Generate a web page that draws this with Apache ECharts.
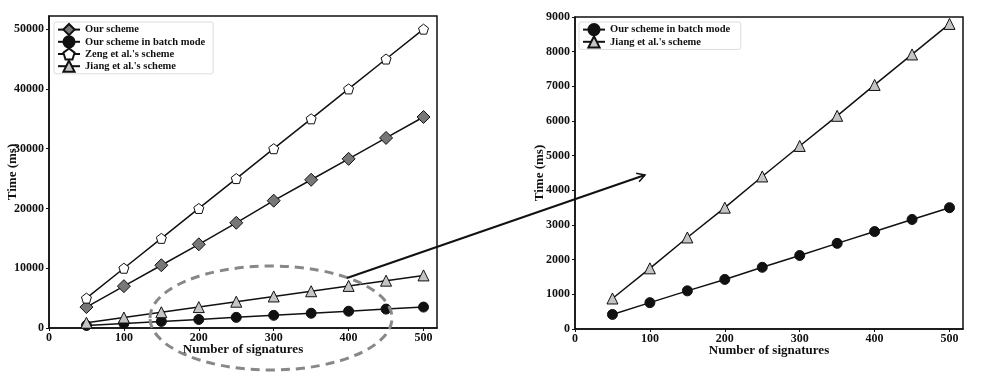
<!DOCTYPE html>
<html lang="en">
<head>
	<meta charset="UTF-8">
	<title>Signature time</title>
	<style>
		html,body{margin:0;padding:0;background:#fff;}
		#main{width:981px;height:383px;}
	</style>
</head>
<body>
	<div id="main"></div>
	<script src="https://cdn.jsdelivr.net/npm/echarts@6/dist/echarts.min.js"></script>
	<script>
		// number of signatures
		var nums = [50, 100, 150, 200, 250, 300, 350, 400, 450, 500];
		// time in ms
		var ourScheme = [3500, 7000, 10500, 14000, 17600, 21300, 24800, 28300, 31800, 35300];
		var batchMode = [420, 760, 1100, 1430, 1780, 2120, 2470, 2810, 3160, 3500];
		var zeng = [5000, 10000, 15000, 20000, 25000, 30000, 35000, 40000, 45000, 50000];
		var jiang = [880, 1750, 2640, 3500, 4400, 5280, 6150, 7040, 7920, 8800];
		var xTicks = [0, 100, 200, 300, 400, 500];
		var yTicksLeft = [0, 10000, 20000, 30000, 40000, 50000];
		var yTicksRight = [0, 1000, 2000, 3000, 4000, 5000, 6000, 7000, 8000, 9000];

		var FONT = '"Liberation Serif", "DejaVu Serif", serif';
		var pentagon = 'path://M0,-1 L0.951,-0.309 L0.588,0.809 L-0.588,0.809 L-0.951,-0.309 Z';

		function pairs(arr){
			return nums.map(function(n, i){ return [n, arr[i]]; });
		}

		function mkSeries(name, arr, idx, symbol, size, fill){
			return {
				name: name,
				type: 'line',
				xAxisIndex: idx,
				yAxisIndex: idx,
				data: pairs(arr),
				symbol: symbol,
				symbolSize: size,
				showAllSymbol: true,
				lineStyle: {color: '#111', width: 1.5},
				itemStyle: {color: fill, borderColor: '#111', borderWidth: 1},
				emphasis: {disabled: true},
				z: 3
			};
		}

		function plain(v){ return String(v); }

		function xAx(idx, max){
			return {
				type: 'value', gridIndex: idx, min: 0, max: max,
				name: 'Number of signatures', nameLocation: 'middle', nameGap: 15,
				nameMoveOverlap: false,
				nameTextStyle: {fontFamily: FONT, fontWeight: 'bold', fontSize: 13, color: '#111'},
				axisLine: {lineStyle: {color: '#111', width: 1.5}},
				axisTick: {length: 3, lineStyle: {color: '#111'}, customValues: xTicks},
				axisLabel: {margin: 4, fontFamily: FONT, fontWeight: 'bold', fontSize: 12, color: '#111', customValues: xTicks, formatter: plain},
				splitLine: {show: false}
			};
		}

		function yAx(idx, max, ticks, gap){
			return {
				type: 'value', gridIndex: idx, min: 0, max: max,
				name: 'Time (ms)', nameLocation: 'middle', nameGap: gap,
				nameMoveOverlap: false,
				nameTextStyle: {fontFamily: FONT, fontWeight: 'bold', fontSize: 13, color: '#111'},
				axisLine: {show: true, lineStyle: {color: '#111', width: 1.5}},
				axisTick: {show: true, length: 3, lineStyle: {color: '#111'}, customValues: ticks},
				axisLabel: {margin: 5, fontFamily: FONT, fontWeight: 'bold', fontSize: 12, color: '#111', customValues: ticks, formatter: plain},
				splitLine: {show: false}
			};
		}

		function legendBox(left, names){
			return {
				left: left, top: 22, orient: 'vertical',
				data: names,
				itemWidth: 22, itemHeight: 14, itemGap: -1,
				padding: [1, 8, 1, 3],
				borderColor: '#ddd', borderWidth: 1, borderRadius: 2,
				backgroundColor: '#fff',
				textStyle: {fontFamily: FONT, fontWeight: 'bold', fontSize: 10.5, color: '#111'},
				selectedMode: false
			};
		}

		// arrow from zoom region to the right plot
		var a0 = [347, 278], a1 = [645, 175];
		var ang = Math.atan2(a1[1] - a0[1], a1[0] - a0[0]);
		var hl = 9, ha = Math.PI / 6;
		var head = [
			[a1[0] - hl * Math.cos(ang - ha), a1[1] - hl * Math.sin(ang - ha)],
			a1,
			[a1[0] - hl * Math.cos(ang + ha), a1[1] - hl * Math.sin(ang + ha)]
		];

		var chart = echarts.init(document.getElementById('main'));
		chart.setOption({
			animation: false,
			backgroundColor: '#fff',
			grid: [
				{left: 49, right: 544, top: 16, bottom: 55, outerBoundsMode: 'none', show: true, borderColor: '#111', borderWidth: 1.5, backgroundColor: 'transparent'},
				{left: 575, right: 18, top: 17, bottom: 54, outerBoundsMode: 'none', show: true, borderColor: '#111', borderWidth: 1.5, backgroundColor: 'transparent'}
			],
			legend: [
				legendBox(54, ['Our scheme', 'Our scheme in batch mode', "Zeng et al.'s scheme", "Jiang et al.'s scheme"]),
				legendBox(579, ['Our scheme in batch mode ', "Jiang et al.'s scheme "])
			],
			xAxis: [xAx(0, 518), xAx(1, 518)],
			yAxis: [yAx(0, 52200, yTicksLeft, 30), yAx(1, 9000, yTicksRight, 29)],
			series: [
				mkSeries('Our scheme', ourScheme, 0, 'diamond', 13, '#777'),
				mkSeries('Our scheme in batch mode', batchMode, 0, 'circle', 10, '#111'),
				mkSeries("Zeng et al.'s scheme", zeng, 0, pentagon, 10, '#fff'),
				mkSeries("Jiang et al.'s scheme", jiang, 0, 'triangle', 11, '#c4c4c4'),
				mkSeries('Our scheme in batch mode ', batchMode, 1, 'circle', 10, '#111'),
				mkSeries("Jiang et al.'s scheme ", jiang, 1, 'triangle', 11, '#c4c4c4')
			],
			graphic: [
				{
					type: 'ellipse', z: 10, silent: true,
					shape: {cx: 271, cy: 318, rx: 121, ry: 52},
					style: {fill: null, stroke: '#888', lineWidth: 3, lineDash: [9, 6]}
				},
				{
					type: 'line', z: 10, silent: true,
					shape: {x1: a0[0], y1: a0[1], x2: a1[0], y2: a1[1]},
					style: {stroke: '#111', lineWidth: 2}
				},
				{
					type: 'polyline', z: 10, silent: true,
					shape: {points: head},
					style: {stroke: '#111', lineWidth: 1.5, fill: null}
				}
			]
		});
	</script>
</body>
</html>
